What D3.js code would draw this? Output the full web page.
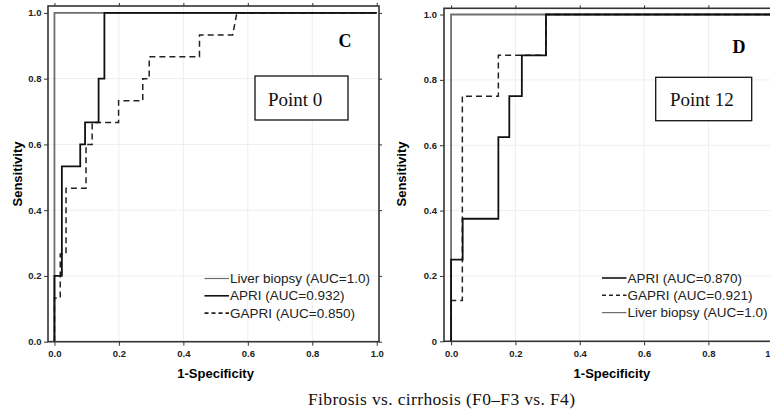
<!DOCTYPE html>
<html>
<head>
<meta charset="utf-8">
<script src="https://cdn.jsdelivr.net/npm/d3@7"></script>
<style>
  body { margin: 0; background: #fff; }
  svg { display: block; }
  .tick text { font-family: "Liberation Sans", Arial, sans-serif; font-weight: bold; font-size: 9.5px; fill: #222; }
  .tick line { stroke: #333; stroke-width: 1; }
</style>
</head>
<body>
<div id="chart"></div>
<script>
// ticks
const tickValues = [0, 0.2, 0.4, 0.6, 0.8, 1.0];
const xTickLabelsC = ["0.0", "0.2", "0.4", "0.6", "0.8", "1.0"];
const yTickLabelsC = ["0.0", "0.2", "0.4", "0.6", "0.8", "1.0"];
const xTickLabelsD = ["0.0", "0.2", "0.4", "0.6", "0.8", "1"];
const yTickLabelsD = ["0", "0.2", "0.4", "0.6", "0.8", "1.0"];

// ROC curves, [1-specificity, sensitivity]
const liverC = [[0, 0], [0, 1], [1, 1]];
const apriC = [[0, 0], [0, 0.2], [0.023, 0.2], [0.023, 0.533], [0.08, 0.533], [0.08, 0.6],
  [0.095, 0.6], [0.095, 0.667], [0.137, 0.667], [0.137, 0.8], [0.155, 0.8], [0.155, 1], [1, 1]];
const gapriC = [[0, 0], [0, 0.133], [0.018, 0.133], [0.018, 0.267], [0.036, 0.267], [0.036, 0.467],
  [0.098, 0.467], [0.098, 0.6], [0.117, 0.6], [0.117, 0.667], [0.199, 0.667], [0.199, 0.733],
  [0.274, 0.733], [0.274, 0.8], [0.294, 0.8], [0.294, 0.867], [0.45, 0.867], [0.45, 0.933],
  [0.553, 0.933], [0.566, 1], [1, 1]];

const apriD = [[0, 0], [0, 0.25], [0.036, 0.25], [0.036, 0.375], [0.147, 0.375], [0.147, 0.625],
  [0.181, 0.625], [0.181, 0.75], [0.22, 0.75], [0.22, 0.875], [0.295, 0.875], [0.295, 1], [1, 1]];
const gapriD = [[0, 0], [0, 0.125], [0.035, 0.125], [0.035, 0.75], [0.147, 0.75], [0.147, 0.875],
  [0.295, 0.875], [0.295, 1], [1, 1]];
const liverD = [[0, 0], [0, 1], [1, 1]];

const legendC = ["Liver biopsy (AUC=1.0)", "APRI (AUC=0.932)", "GAPRI (AUC=0.850)"];
const legendD = ["APRI (AUC=0.870)", "GAPRI (AUC=0.921)", "Liver biopsy (AUC=1.0)"];

const styles = {
  liver: {stroke: "#6e6e6e", width: 1.8, dash: null},
  apri: {stroke: "#111", width: 1.8, dash: null},
  gapri: {stroke: "#222", width: 1.5, dash: "6,4"}
};

const svg = d3.select("#chart").append("svg")
  .attr("width", 770).attr("height", 413);

function drawPanel(cfg) {
  const g = svg.append("g");
  const x = d3.scaleLinear().domain(cfg.xDomain).range(cfg.xRange);
  const y = d3.scaleLinear().domain(cfg.yDomain).range(cfg.yRange);
  const left = cfg.xRange[0], right = cfg.xRange[1], top = cfg.yRange[1], bottom = cfg.yRange[0];

  // faint grid
  g.append("g").selectAll("line.gx").data(tickValues.slice(1, 5)).enter().append("line")
    .attr("x1", d => x(d)).attr("x2", d => x(d)).attr("y1", top).attr("y2", bottom)
    .attr("stroke", "#eeeeee").attr("stroke-width", 1);
  g.append("g").selectAll("line.gy").data(tickValues.slice(1, 5)).enter().append("line")
    .attr("y1", d => y(d)).attr("y2", d => y(d)).attr("x1", left).attr("x2", right)
    .attr("stroke", "#eeeeee").attr("stroke-width", 1);

  const xAxis = d3.axisBottom(x).tickValues(tickValues).tickSize(4).tickSizeOuter(0).tickPadding(4.5)
    .tickFormat((d, i) => cfg.xLabels[i]);
  const yAxis = d3.axisLeft(y).tickValues(tickValues).tickSize(4).tickSizeOuter(0).tickPadding(cfg.yPad)
    .tickFormat((d, i) => cfg.yLabels[i]);
  const xTop = d3.axisTop(x).tickValues(tickValues).tickSize(3).tickSizeOuter(0).tickFormat("");
  const yRight = d3.axisRight(y).tickValues(tickValues).tickSize(3).tickSizeOuter(0).tickFormat("");

  const xg = g.append("g").attr("transform", `translate(0,${bottom})`).call(xAxis).call(a => a.select(".domain").remove());
  if (cfg.lastLabelEnd) {
    // last label sits on the page edge
    xg.selectAll(".tick text").filter((d, i) => i === tickValues.length - 1)
      .attr("text-anchor", "end").attr("x", cfg.lastLabelEnd - x(1));
  }
  g.append("g").attr("transform", `translate(${left},0)`).call(yAxis).call(a => a.select(".domain").remove());
  g.append("g").attr("transform", `translate(0,${top})`).call(xTop).call(a => a.select(".domain").remove());
  g.append("g").attr("transform", `translate(${right},0)`).call(yRight).call(a => a.select(".domain").remove());

  const line = d3.line().x(d => x(d[0])).y(d => y(d[1]));
  cfg.curves.forEach(c => {
    const s = styles[c.key];
    g.append("path").datum(c.data)
      .attr("d", line)
      .attr("fill", "none")
      .attr("stroke", s.stroke)
      .attr("stroke-width", s.width)
      .attr("stroke-dasharray", s.dash);
  });

  // frame
  g.append("rect")
    .attr("x", left).attr("y", top).attr("width", right - left).attr("height", bottom - top)
    .attr("fill", "none").attr("stroke", "#333").attr("stroke-width", 1.6);

  // axis titles
  g.append("text")
    .attr("x", (x(0) + x(1)) / 2).attr("y", 378)
    .attr("text-anchor", "middle")
    .attr("font-family", "Liberation Sans, Arial, sans-serif")
    .attr("font-weight", "bold").attr("font-size", 13)
    .text("1-Specificity");
  g.append("text")
    .attr("transform", `translate(${cfg.yTitleX},174) rotate(-90)`)
    .attr("text-anchor", "middle")
    .attr("font-family", "Liberation Sans, Arial, sans-serif")
    .attr("font-weight", "bold").attr("font-size", 13)
    .text("Sensitivity");

  // panel letter
  g.append("text")
    .attr("x", cfg.letterX).attr("y", cfg.letterY)
    .attr("text-anchor", "middle")
    .attr("font-family", "Liberation Serif, Times New Roman, serif")
    .attr("font-weight", "bold").attr("font-size", 18)
    .text(cfg.letter);

  // point box
  g.append("rect")
    .attr("x", cfg.box[0]).attr("y", cfg.box[1]).attr("width", cfg.box[2]).attr("height", cfg.box[3])
    .attr("fill", "#fff").attr("stroke", "#111").attr("stroke-width", 1.3);
  g.append("text")
    .attr("x", cfg.pointX).attr("y", 106)
    .attr("font-family", "Liberation Serif, Times New Roman, serif")
    .attr("font-size", 19)
    .attr("fill", "#111")
    .text(cfg.point);

  // legend
  const lg = g.append("g");
  cfg.legend.forEach((txt, i) => {
    const s = styles[cfg.legendKeys[i]];
    const ly = cfg.legendY + i * 17.3;
    lg.append("line")
      .attr("x1", cfg.legendX).attr("x2", cfg.legendX + 24.5)
      .attr("y1", ly).attr("y2", ly)
      .attr("stroke", s.stroke)
      .attr("stroke-width", cfg.legendKeys[i] === "liver" ? 1.2 : 1.6)
      .attr("stroke-dasharray", s.dash ? "4,3" : null);
    lg.append("text")
      .attr("x", cfg.legendX + 25.5).attr("y", ly + 4.5)
      .attr("font-family", "Liberation Sans, Arial, sans-serif")
      .attr("font-size", 13.5)
      .attr("fill", "#222")
      .text(txt);
  });
}

drawPanel({
  xDomain: [-0.02, 1.007], xRange: [48, 379],
  yDomain: [0, 1.021], yRange: [341.7, 6],
  xLabels: xTickLabelsC, yLabels: yTickLabelsC, yPad: 2.5,
  yTitleX: 22,
  curves: [{key: "liver", data: liverC}, {key: "gapri", data: gapriC}, {key: "apri", data: apriC}],
  letter: "C", letterX: 345, letterY: 46.7,
  box: [255, 76, 93, 44], point: "Point 0", pointX: 268,
  legend: legendC, legendKeys: ["liver", "apri", "gapri"], legendX: 204.5, legendY: 278.5
});

drawPanel({
  xDomain: [-0.022, 1.007], xRange: [444, 775],
  yDomain: [0, 1.019], yRange: [341.3, 8.3],
  xLabels: xTickLabelsD, yLabels: yTickLabelsD, yPad: 3,
  yTitleX: 406, lastLabelEnd: 770,
  curves: [{key: "liver", data: liverD}, {key: "gapri", data: gapriD}, {key: "apri", data: apriD}],
  letter: "D", letterX: 739, letterY: 53.3,
  box: [655.7, 77.3, 96, 43.4], point: "Point 12", pointX: 670,
  legend: legendD, legendKeys: ["apri", "gapri", "liver"], legendX: 602, legendY: 278
});

svg.append("text")
  .attr("x", 308).attr("y", 405)
  .attr("font-family", "Liberation Serif, Times New Roman, serif")
  .attr("font-size", 17.5)
  .attr("fill", "#111")
  .attr("textLength", 267).attr("lengthAdjust", "spacing")
  .text("Fibrosis vs. cirrhosis (F0–F3 vs. F4)");
</script>
</body>
</html>
